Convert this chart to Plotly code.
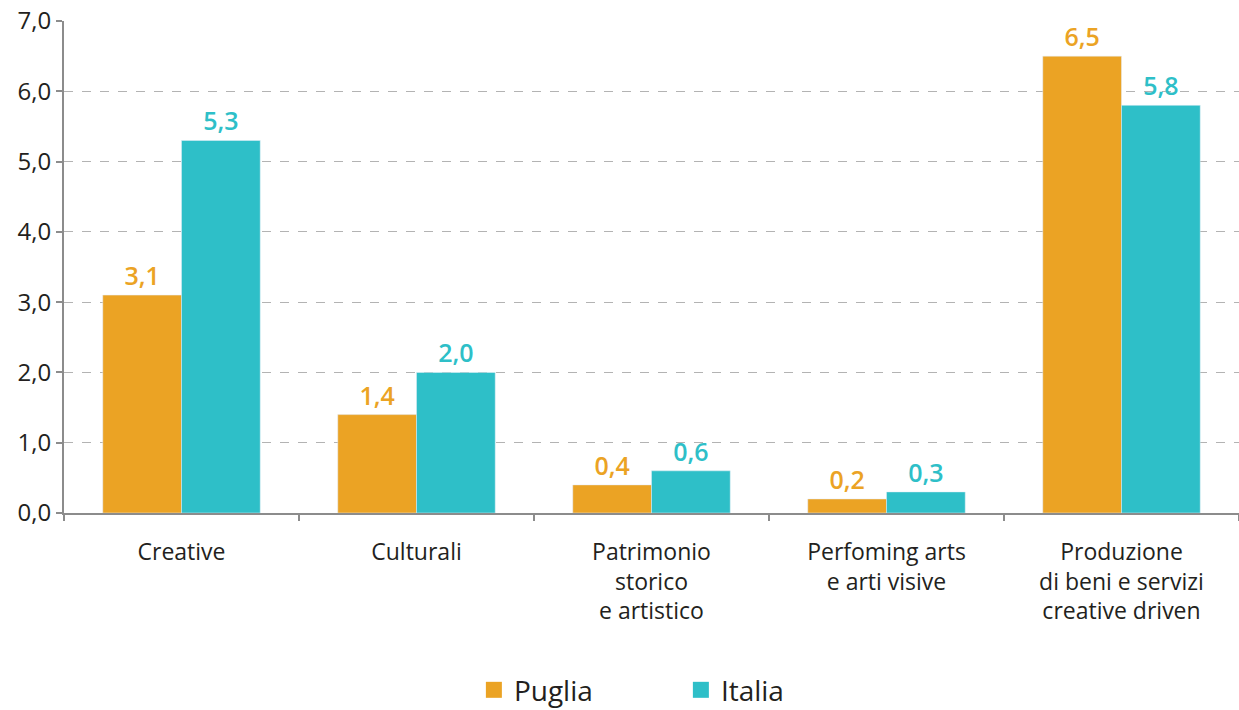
import plotly.graph_objects as go

categories = ["Creative", "Culturali", "Patrimonio<br>storico<br>e artistico",
              "Perfoming arts<br>e arti visive", "Produzione<br>di beni e servizi<br>creative driven"]
puglia = [3.1, 1.4, 0.4, 0.2, 6.5]
italia = [5.3, 2.0, 0.6, 0.3, 5.8]
y_ticks = [0, 1, 2, 3, 4, 5, 6, 7]

ORANGE = "#EBA324"
TEAL = "#2EBFC8"
FONT = "Open Sans"

fig = go.Figure()
for name, vals, col in [("Puglia", puglia, ORANGE), ("Italia", italia, TEAL)]:
    fig.add_trace(go.Bar(name=name, x=categories, y=vals, marker_color=col,
                         text=vals, texttemplate="%{y:.1f}", textposition="outside",
                         textfont=dict(color=col, size=25, family=FONT, weight=600),
                         cliponaxis=False, showlegend=False))
for name, col in [("Puglia", ORANGE), ("Italia", TEAL)]:
    fig.add_trace(go.Scatter(name=name, x=[None], y=[None], mode="markers",
                             marker=dict(symbol="square", size=22, color=col),
                             showlegend=True))

fig.update_layout(
    width=1239, height=710,
    margin=dict(l=64, r=0, t=21, b=197, autoexpand=False),
    barmode="group", bargap=0.33, bargroupgap=0,
    separators=",.",
    plot_bgcolor="white", paper_bgcolor="white",
    font=dict(family=FONT, size=23, color="#231F20"),
    legend=dict(orientation="h", x=0.525, xanchor="center", yref="container", y=0.028,
                yanchor="middle", font=dict(size=28), entrywidth=162,
                itemwidth=30),
)
fig.update_xaxes(showline=True, linecolor="#8C8C8C", linewidth=2, ticks="outside",
                 tickson="boundaries", ticklen=6, tickcolor="#8C8C8C", tickwidth=2,
                 tickfont=dict(size=23), showgrid=False, ticklabelstandoff=17)
fig.update_yaxes(range=[0, 7], tickvals=y_ticks, tickformat=".1f", showline=True,
                 linecolor="#8C8C8C", linewidth=2, ticks="outside", ticklen=6,
                 tickcolor="#8C8C8C", tickwidth=2, showgrid=True, gridcolor="#B3B3B3",
                 griddash="dash", gridwidth=1.2, zeroline=False,
                 tickfont=dict(size=24))

fig.write_html("out.html")
